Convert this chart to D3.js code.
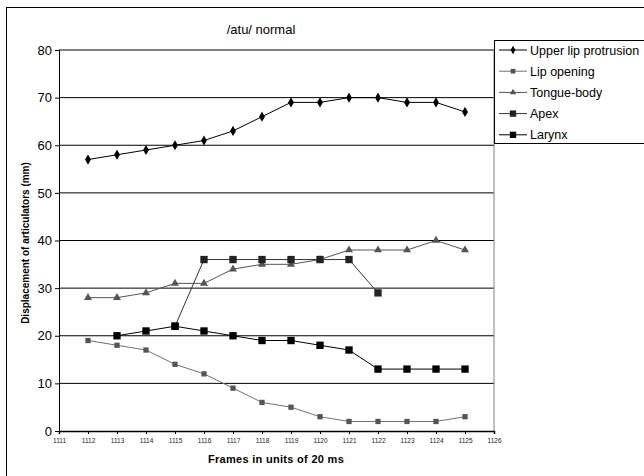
<!DOCTYPE html>
<html>
<head>
<meta charset="utf-8">
<script src="https://cdn.jsdelivr.net/npm/d3@7"></script>
<style>
  body { margin: 0; background: #fff; }
  svg { display: block; font-family: "Liberation Sans", Arial, sans-serif; }
</style>
</head>
<body>
<div id="chart"></div>
<script>
// frames on the x axis
const frames = [1112, 1113, 1114, 1115, 1116, 1117, 1118, 1119, 1120, 1121, 1122, 1123, 1124, 1125];

const upperLip = [57, 58, 59, 60, 61, 63, 66, 69, 69, 70, 70, 69, 69, 67];
const lipOpening = [19, 18, 17, 14, 12, 9, 6, 5, 3, 2, 2, 2, 2, 3];
const tongueBody = [28, 28, 29, 31, 31, 34, 35, 35, 36, 38, 38, 38, 40, 38];
// apex only has values from 1115 to 1122
const apex = [null, null, null, 22, 36, 36, 36, 36, 36, 36, 29, null, null, null];
const larynx = [null, 20, 21, 22, 21, 20, 19, 19, 18, 17, 13, 13, 13, 13];

const xTicks = d3.range(1111, 1127);
const yTicks = [0, 10, 20, 30, 40, 50, 60, 70, 80];

const seriesNames = ['Upper lip protrusion', 'Lip opening', 'Tongue-body', 'Apex', 'Larynx'];
const seriesValues = [upperLip, lipOpening, tongueBody, apex, larynx];

// styles per series
const styles = [
  {line: '#000', fill: '#000', shape: d3.symbolDiamond, size: 30, lsize: 20},
  {line: '#707070', fill: '#555', shape: d3.symbolSquare, size: 28, lsize: 22},
  {line: '#555', fill: '#555', shape: d3.symbolTriangle, size: 28, lsize: 18},
  {line: '#333', fill: '#222', shape: d3.symbolSquare, size: 54, lsize: 40},
  {line: '#000', fill: '#000', shape: d3.symbolSquare, size: 54, lsize: 40},
];

const W = 644, H = 476;
const svg = d3.select('#chart').append('svg')
  .attr('width', W)
  .attr('height', H);

// outer chart frame (runs off the right and bottom edge)
svg.append('rect')
  .attr('x', 6.5).attr('y', 7.5)
  .attr('width', W + 10).attr('height', H + 10)
  .attr('fill', '#fff')
  .attr('stroke', '#000')
  .attr('stroke-width', 1);

const x = d3.scaleLinear().domain([1111, 1126]).range([59, 494]);
const y = d3.scaleLinear().domain([0, 80]).range([431, 50]);

// gridlines
svg.append('g')
  .selectAll('line')
  .data(yTicks.filter(d => d > 0))
  .enter()
  .append('line')
  .attr('x1', x(1111)).attr('x2', x(1126))
  .attr('y1', d => y(d)).attr('y2', d => y(d))
  .attr('stroke', '#000')
  .attr('stroke-width', 1);

// right border of plot
svg.append('line')
  .attr('x1', x(1126)).attr('x2', x(1126))
  .attr('y1', y(80)).attr('y2', y(0))
  .attr('stroke', '#808080');

// Y axis
const yAxis = svg.append('g')
  .attr('transform', `translate(${x(1111)},0)`)
  .call(d3.axisLeft(y).tickValues(yTicks).tickSize(4).tickPadding(3).tickFormat(d3.format('d')));
yAxis.select('.domain').attr('stroke', '#000');
yAxis.selectAll('text')
  .attr('font-size', 13)
  .attr('font-family', '"Liberation Sans", Arial, sans-serif')
  .attr('fill', '#000');

// X axis
const xAxis = svg.append('g')
  .attr('transform', `translate(0,${y(0)})`)
  .call(d3.axisBottom(x).tickValues(xTicks).tickSize(3).tickPadding(4).tickFormat(d3.format('d')));
xAxis.select('.domain').attr('stroke', '#000').attr('stroke-width', 1.5);
xAxis.selectAll('text')
  .attr('font-size', 6.5)
  .attr('font-family', '"Liberation Sans", Arial, sans-serif')
  .attr('fill', '#222');

// series lines and markers
seriesValues.forEach((vals, i) => {
  const st = styles[i];
  const pts = frames.map((f, j) => ({f, v: vals[j]})).filter(d => d.v !== null);
  const line = d3.line().x(d => x(d.f)).y(d => y(d.v));
  svg.append('path')
    .datum(pts)
    .attr('d', line)
    .attr('fill', 'none')
    .attr('stroke', st.line)
    .attr('stroke-width', 1);
  svg.append('g')
    .selectAll('path')
    .data(pts)
    .enter()
    .append('path')
    .attr('d', d3.symbol().type(st.shape).size(st.size))
    .attr('transform', d => `translate(${x(d.f)},${y(d.v)})`)
    .attr('fill', st.fill);
});

// title
svg.append('text')
  .attr('x', 261).attr('y', 34)
  .attr('text-anchor', 'middle')
  .attr('font-size', 13)
  .text('/atu/ normal');

// axis titles
svg.append('text')
  .attr('x', 276).attr('y', 463)
  .attr('text-anchor', 'middle')
  .attr('font-size', 11)
  .attr('font-weight', 'bold')
  .attr('letter-spacing', 0.3)
  .text('Frames in units of 20 ms');

svg.append('text')
  .attr('transform', 'translate(29,243) rotate(-90)')
  .attr('text-anchor', 'middle')
  .attr('font-size', 10)
  .attr('font-weight', 'bold')
  .text('Displacement of articulators (mm)');

// legend
const legend = svg.append('g');
legend.append('rect')
  .attr('x', 494.5).attr('y', 40.5)
  .attr('width', 160).attr('height', 103)
  .attr('fill', '#fff')
  .attr('stroke', '#000');

seriesNames.forEach((name, i) => {
  const st = styles[i];
  const ly = 50 + i * 21.2;
  const g = legend.append('g').attr('transform', `translate(0,${ly})`);
  g.append('line')
    .attr('x1', 499).attr('x2', 527)
    .attr('y1', 0).attr('y2', 0)
    .attr('stroke', st.line);
  g.append('path')
    .attr('d', d3.symbol().type(st.shape).size(st.lsize))
    .attr('transform', 'translate(513,0)')
    .attr('fill', st.fill);
  g.append('text')
    .attr('x', 530).attr('y', 4.5)
    .attr('font-size', 12.5)
    .text(name);
});
</script>
</body>
</html>
